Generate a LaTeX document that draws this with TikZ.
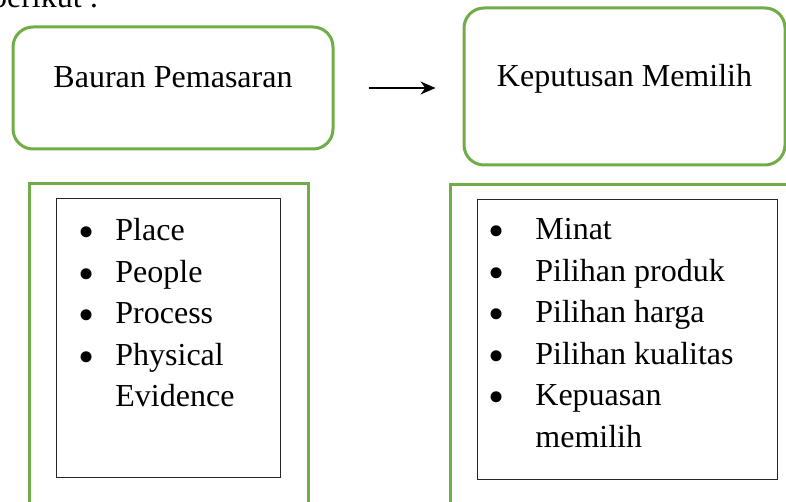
\documentclass[tikz,border=0pt]{standalone}
\usepackage{fontspec}
\setmainfont{Liberation Serif}
\usepackage{tikz}
\usetikzlibrary{arrows.meta, positioning, calc}
\definecolor{leafgreen}{RGB}{112,173,71}

\newcommand{\bitem}[2]{\makebox[#1][l]{\raisebox{-3.6pt}[0pt][0pt]{\fontsize{23}{0}\selectfont\textbullet}}#2}

\begin{document}
\begin{tikzpicture}[
  x=0.5pt, y=-0.5pt,
  font=\fontsize{16}{20.75}\selectfont,
  hd/.style = {
    draw=leafgreen, line width=1.5pt, rounded corners=10pt,
    inner sep=0pt, text height=0pt, text depth=0pt
  },
  frame/.style = { draw=leafgreen, line width=1.5pt, inner sep=0pt },
  lst/.style = { draw=black!85, line width=0.55pt, inner sep=0pt },
  items/.style = { anchor=north west, inner sep=0pt, align=left },
  arr/.style = { -{Stealth[length=7.5pt, width=6.5pt]}, line width=0.55pt }
]
\useasboundingbox (0,0) rectangle (786,502);

% text cut at the top edge
\node[anchor=base east, inner sep=0pt] (intro) at (99,8) {berikut :};

% heading boxes
\node[hd, minimum width=160pt, minimum height=61pt] (bauran) at (173,88) {Bauran Pemasaran};
\node[hd, minimum width=160.5pt, minimum height=78.5pt] (keputusan) at (624.5,86.5) {Keputusan Memilih};

\draw[arr, shorten <=17pt, shorten >=13.5pt] (bauran.east) -- (bauran.east -| keputusan.west);

% green frames, running off the page
\node[frame, minimum width=139.5pt, minimum height=174pt, anchor=north west] (frameL) at (28,182) {};
\node[frame, minimum width=185pt, minimum height=174pt, anchor=north west] (frameR) at (449,183) {};

% list boxes
\node[lst, minimum width=112pt, minimum height=139.5pt, anchor=north west] (boxL) at (56,198) {};
\node[lst, minimum width=150pt, minimum height=140pt, anchor=north west] (boxR) at (477,199) {};

\node[items] (itemsL) at (78,218) {%
  \bitem{18.5pt}{Place}\\
  \bitem{18.5pt}{People}\\
  \bitem{18.5pt}{Process}\\
  \bitem{18.5pt}{Physical}\\
  \hspace*{18.5pt}Evidence};
\node[items] (itemsR) at (488,218) {%
  \bitem{23.5pt}{Minat}\\
  \bitem{23.5pt}{Pilihan produk}\\
  \bitem{23.5pt}{Pilihan harga}\\
  \bitem{23.5pt}{Pilihan kualitas}\\
  \bitem{23.5pt}{Kepuasan}\\
  \hspace*{23.5pt}memilih};

\end{tikzpicture}
\end{document}
